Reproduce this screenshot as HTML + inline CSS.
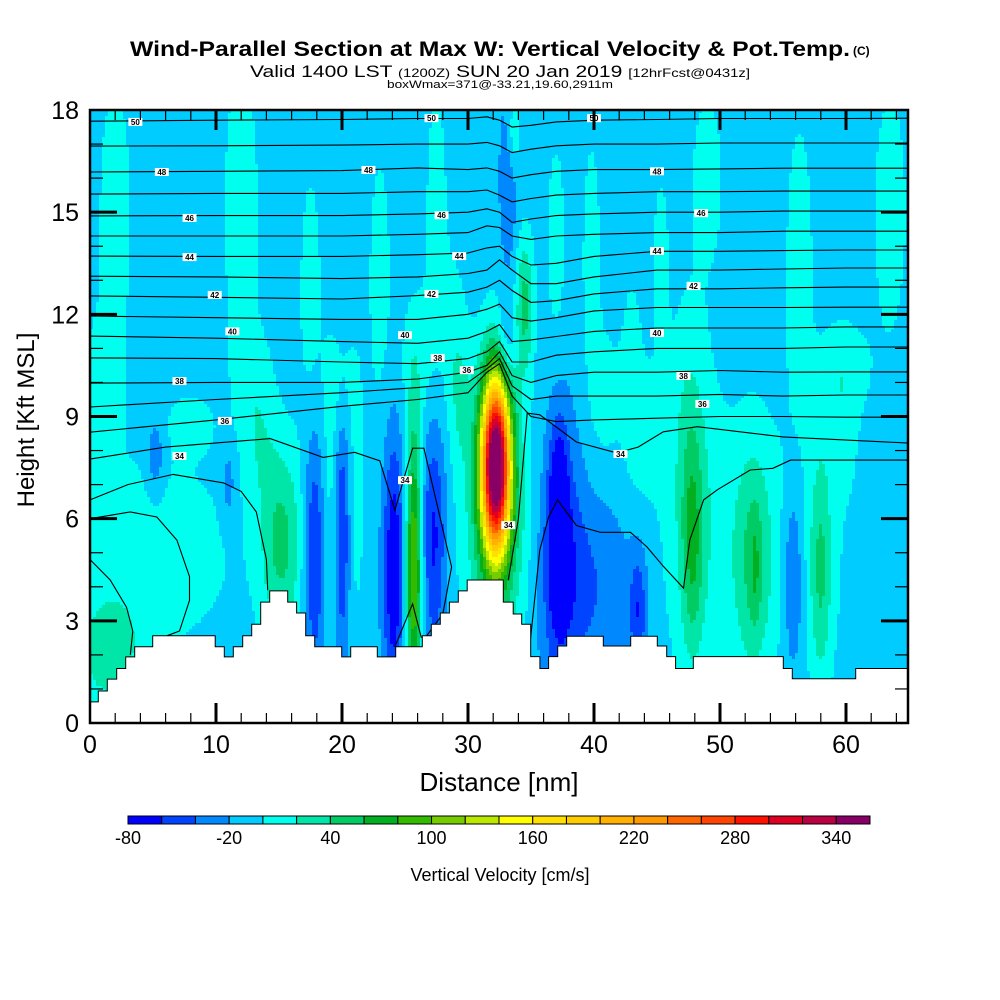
<!DOCTYPE html>
<html><head><meta charset="utf-8">
<style>
html,body{margin:0;padding:0;background:#fff;}
svg{display:block;font-family:"Liberation Sans",sans-serif;}
</style></head>
<body>
<svg id="chart" width="1000" height="1000" viewBox="0 0 1000 1000" xmlns="http://www.w3.org/2000/svg">
  <rect x="0" y="0" width="1000" height="1000" fill="#fff"/>
  <text x="490" y="56" text-anchor="middle" font-size="21" font-weight="bold" textLength="720" lengthAdjust="spacingAndGlyphs">Wind-Parallel Section at Max W: Vertical Velocity &amp; Pot.Temp.</text>
  <text x="853" y="55" font-size="12" font-weight="bold">(C)</text>
  <text x="500" y="77" text-anchor="middle" font-size="17" textLength="500" lengthAdjust="spacingAndGlyphs">Valid 1400 LST <tspan font-size="12">(1200Z)</tspan> SUN 20 Jan 2019 <tspan font-size="12">[12hrFcst@0431z]</tspan></text>
  <text x="500" y="88" text-anchor="middle" font-size="11" textLength="226" lengthAdjust="spacingAndGlyphs">boxWmax=371@-33.21,19.60,2911m</text>
  <g id="field"></g>
  <g id="contours"></g>
  <g id="terrain"></g>
  <g id="clabels"></g>
  <g id="axes"></g>
  <g id="cbar"></g>
  <text x="499" y="791" text-anchor="middle" font-size="26">Distance [nm]</text>
  <text transform="translate(34,420) rotate(-90)" text-anchor="middle" font-size="24">Height [Kft MSL]</text>
  <text x="500" y="881" text-anchor="middle" font-size="18">Vertical Velocity [cm/s]</text>
</svg>
<script>
// ---- data ----
const colorLevels = [-80,-60,-40,-20,0,20,40,60,80,100,120,140,160,180,200,220,240,260,280,300,320,340];
const colorFills = ['#0000ff','#0044ff','#0088ff','#00ccff','#00ffee','#00e6a8','#00cc66','#00b020','#33bb00','#77cc00','#bbe800','#ffff00','#ffe000','#ffcc00','#ffb000','#ff9900','#ff6600','#ff4400','#ff1100','#dd0022','#bb0044','#880066'];
const colorTickLabels = ['-80','-20','40','100','160','220','280','340'];
const xTicks = [0,10,20,30,40,50,60];
const yTicks = [0,3,6,9,12,15,18];
const baseVelocity = -10;
// velocity features (nm, kft, spread nm, spread kft, cm/s)
const blobX  = [5,1.5,1,5.2,11,15.2,17.8,20,24.1,25.7,27.3,32.2,32.3,37.2,37.3,39.5,43.5,48,47.8,52.6,52.8,55.8,58,54,
  2,12,13,17.5,20,23,26,27.5,29,34.5,33.6,33.2,33,37,39.8,43,45.3,47.5,49,56.3,59.5,63.5,60,8,19,21.2,13.5,29.5,41,44];
const blobY  = [5,2,10,7.8,7,5.3,5,5.5,4.5,4.5,5.5,7.6,6,6,5,4,3.3,6,5.2,4.8,4.5,4.3,4.5,5,
  15,15,10,12.5,10,13,10.5,14.5,11,12.3,17.3,16,11,14,13.5,10.5,13.5,9,16,13.5,9,15,10.5,8.8,7,6.5,8,9.5,9.5,8.5];
const blobSX = [5,1.8,1.2,0.5,0.4,1.2,0.6,0.4,0.6,0.45,0.7,0.8,1.8,0.5,1.2,2.5,0.5,1.8,0.6,1.0,0.3,0.6,0.6,5,
  1.0,1.1,1.1,0.7,0.9,0.7,1.1,0.7,0.6,0.5,0.4,0.5,0.5,0.6,0.6,0.6,0.5,1.0,1.0,0.9,1.0,1.1,1.5,1.3,0.5,0.4,0.9,0.7,0.9,1.0];
const blobSY = [2.2,1.2,1.5,0.8,0.8,2.0,2.5,2.5,2.8,3.0,2.5,1.8,3,1.8,3,2,1.2,3.5,2.2,2.4,1.2,2.0,2.3,3,
  3,3.5,1.2,3,1.2,3,1.5,3.5,2,1.4,0.8,2,1,2.5,3,2,2,2.5,2,3.5,1.5,3,1,0.6,2.5,2.5,1.2,1.5,1.5,1.5];
const blobAmp = [20,40,18,-30,-25,55,-55,-50,-70,115,-55,370,60,-75,-40,-30,-45,20,50,42,20,-40,45,16,
  20,20,18,18,18,18,18,18,16,55,35,-30,-30,18,18,18,18,18,18,18,18,18,16,18,18,18,18,18,18,18];
// terrain step edges (nm) and heights (kft)
const terrainEdges = [0,0.66,1.37,2.12,2.83,3.55,4.98,9.94,10.66,11.37,12.12,12.83,13.55,14.26,15.69,16.40,17.12,17.83,19.98,20.69,22.80,24.26,26.37,27.09,27.80,28.52,29.23,29.94,32.80,33.59,34.26,34.98,35.71,36.40,37.12,37.83,40.74,42.91,45.02,45.77,46.48,47.88,55.02,55.74,60.77,65];
const terrainHeights = [0.62,0.94,1.29,1.6,1.94,2.24,2.56,2.24,1.94,2.24,2.56,2.9,3.55,3.88,3.55,3.23,2.56,2.24,1.94,2.24,1.94,2.24,2.56,2.9,3.23,3.55,3.88,4.2,3.55,3.2,2.9,1.95,1.6,1.95,2.26,2.55,2.26,2.55,2.26,1.95,1.6,1.95,1.6,1.3,1.6];
// potential temperature contours (upper, shared x nodes)
const thetaX = [0,10,20,26,30,31.5,32.5,33.5,35,37,40,45,50,55,60,65];
const theta50 = [17.67,17.7,17.72,17.75,17.75,17.8,17.7,17.5,17.55,17.65,17.7,17.72,17.75,17.75,17.75,17.76];
const theta49 = [16.94,16.95,16.97,17.0,17.0,17.05,16.95,16.75,16.85,16.95,17.0,17.0,17.03,17.03,17.03,17.03];
const theta48 = [16.18,16.2,16.22,16.3,16.25,16.3,16.2,16.0,16.1,16.2,16.25,16.25,16.27,16.29,16.29,16.29];
const theta47 = [15.53,15.55,15.55,15.6,15.6,15.65,15.5,15.3,15.4,15.5,15.55,15.6,15.6,15.62,15.62,15.62];
const theta46 = [14.89,14.9,14.9,14.95,15.0,15.1,15.0,14.7,14.8,14.9,14.95,15.0,15.0,15.03,15.03,15.03];
const theta45 = [14.30,14.3,14.3,14.35,14.4,14.6,14.55,14.3,14.2,14.3,14.35,14.4,14.4,14.44,14.44,14.44];
const theta44 = [13.71,13.7,13.7,13.75,13.8,13.95,14.0,13.7,13.45,13.5,13.7,13.85,13.85,13.87,13.89,13.89];
const theta43 = [13.12,13.1,13.05,13.1,13.2,13.3,13.6,13.3,12.9,12.9,13.1,13.3,13.3,13.33,13.36,13.36];
const theta42 = [12.54,12.5,12.45,12.55,12.65,12.8,13.0,12.7,12.35,12.4,12.6,12.75,12.75,12.78,12.8,12.8];
const theta41 = [11.95,11.9,11.85,11.85,12.0,12.15,12.3,11.9,11.8,11.9,12.1,12.2,12.2,12.2,12.21,12.21];
const theta40 = [11.36,11.3,11.2,11.15,11.3,11.5,11.7,11.2,11.25,11.35,11.5,11.6,11.6,11.6,11.63,11.63];
const theta39 = [10.72,10.7,10.6,10.55,10.7,10.9,11.2,10.6,10.6,10.8,10.9,11.0,11.0,11.0,11.04,11.04];
const theta38 = [9.98,10.0,10.0,10.1,10.3,10.5,10.9,10.2,10.0,10.2,10.3,10.3,10.35,10.3,10.31,10.31];
const theta37 = [9.28,9.5,9.7,9.85,10.0,10.4,10.7,9.9,9.5,9.6,9.6,9.6,9.65,9.6,9.63,9.63];
const theta36 = [8.54,8.9,9.3,9.5,9.7,10.3,10.55,9.6,9.0,8.85,8.9,8.95,9.0,9.0,8.98,8.98];
// lower contours (free-form nm/kft lists)
const low34aX = [0,6,14.3,18.5,21,23,24.2,25.6,26.5,28.7,28,26.4];
const low34aY = [7.75,8.1,8.35,7.8,7.95,7.7,6.25,8.07,8.07,4.58,3.2,2.4];
const low34bX = [33.2,34,34.7,35.7,38.6,41.8,43.5,45.5,48.2,55,65];
const low34bY = [4.2,6,9.1,9.05,8.25,7.93,8.1,8.55,8.7,8.4,8.22];
const low33X = [0,3,6.6,10.6,12,13.2,14,14.1];
const low33Y = [6.55,7.0,7.3,7.05,6.8,6.2,4.8,3.9];
const low32X = [0,3.2,5.3,6.9,7.9,7.9,7.1,6.1];
const low32Y = [6.0,6.2,6.05,5.37,4.3,3.6,2.7,2.56];
const low31X = [0,1.6,2.9,3.4,3.2];
const low31Y = [4.8,4.2,3.4,2.7,2.0];
const spikeX = [24.2,25.6,26.3];
const spikeY = [2.24,3.5,2.5];
const rightX = [34.9,35.7,36.4,37.1,38.6,40.5,42.9,44.2,45.5,47.1,47.6,48.7,49.8,52.4,54.2,55.6,65];
const rightY = [2.24,5.08,6.05,6.55,5.8,5.6,5.6,5.17,4.6,3.96,5.37,6.55,6.85,7.43,7.48,7.72,7.72];
// contour labels
const labelX = [3.6,27.1,40.0,5.7,22.1,45.0,7.9,27.9,48.5,7.9,29.3,45.0,9.9,27.1,47.9,11.3,25.0,45.0,7.1,27.6,47.1,10.7,29.9,48.6,7.1,25.0,33.2,42.1];
const labelY = [17.65,17.76,17.76,16.18,16.24,16.2,14.83,14.91,14.97,13.68,13.71,13.86,12.57,12.6,12.83,11.5,11.39,11.45,10.04,10.72,10.19,8.87,10.36,9.37,7.84,7.13,5.81,7.9];
const labelText = ['50','50','50','48','48','48','46','46','46','44','44','44','42','42','42','40','40','40','38','38','38','36','36','36','34','34','34','34'];

// ---- scales ----
const X0=90, X1=908, Y0=723, Y1=110, XMAX=(908-90)/12.6, YMAX=18;
const xs = nm => X0 + nm*12.6;
const ys = k => Y0 - k*((Y0-Y1)/YMAX);
const NS='http://www.w3.org/2000/svg';
function mk(tag, attrs, parent){const e=document.createElementNS(NS,tag);for(const k in attrs)e.setAttribute(k,attrs[k]);parent.appendChild(e);return e;}
function colorIndex(v){let i=Math.floor((v-colorLevels[0])/20);return Math.max(0,Math.min(colorFills.length-1,i));}
function velocity(nm,k){let v=baseVelocity;for(let i=0;i<blobX.length;i++){const dx=(nm-blobX[i])/blobSX[i],dy=(k-blobY[i])/blobSY[i];v+=blobAmp[i]*Math.exp(-0.5*(dx*dx+dy*dy));}return v;}

// ---- field ----
const field=document.getElementById('field');
const step=3;
for(let py=Y1;py<Y0;py+=step){
  let runStart=X0,runIdx=-1;
  const h=Math.min(step,Y0-py);
  for(let px=X0;;px+=step){
    const done = px>=X1;
    let idx=-2;
    if(!done){const nm=(px+step/2-X0)/12.6,k=(Y0-(py+h/2))/((Y0-Y1)/YMAX);idx=colorIndex(velocity(nm,k));}
    if(idx!==runIdx){
      if(runIdx>=0){const r=mk('rect',{x:runStart,y:py,width:Math.min(px,X1)-runStart+0.5,height:h+0.5,fill:colorFills[runIdx]},field);
        
        }
      runStart=px;runIdx=idx;
    }
    if(done)break;
  }
}

// ---- contours ----
const cg=document.getElementById('contours');
function poly(xa,ya,name){const p=mk('polyline',{points:xa.map((x,i)=>xs(x).toFixed(1)+','+ys(ya[i]).toFixed(1)).join(' '),fill:'none',stroke:'#000','stroke-width':1.1},cg);
  
  }
const upper=[theta50,theta49,theta48,theta47,theta46,theta45,theta44,theta43,theta42,theta41,theta40,theta39,theta38,theta37,theta36];
upper.forEach((arr,i)=>poly(thetaX,arr,'theta-contour-'+(50-i)));
poly(low34aX,low34aY,'theta-contour-34-left');
poly(low34bX,low34bY,'theta-contour-34-right');
poly(low33X,low33Y,'theta-contour-33');
poly(low32X,low32Y,'theta-contour-32');
poly(low31X,low31Y,'theta-contour-31');
poly(spikeX,spikeY,'theta-contour-spike');
poly(rightX,rightY,'theta-contour-right-low');

// ---- terrain ----
const tg=document.getElementById('terrain');
let d='M'+xs(0)+','+Y0;
for(let i=0;i<terrainHeights.length;i++){d+=' L'+xs(terrainEdges[i]).toFixed(1)+','+ys(terrainHeights[i]).toFixed(1)+' L'+Math.min(X1,xs(terrainEdges[i+1])).toFixed(1)+','+ys(terrainHeights[i]).toFixed(1);}
d+=' L'+X1+','+Y0+' Z';
const tp=mk('path',{d:d,fill:'#fff',stroke:'#000','stroke-width':1},tg);



// ---- contour labels ----
const lg=document.getElementById('clabels');
labelText.forEach((t,i)=>{
  const r=mk('rect',{x:xs(labelX[i])-7,y:ys(labelY[i])-4,width:14,height:8,fill:'#fff'},lg);
  
  
  const tx=mk('text',{x:xs(labelX[i]),y:ys(labelY[i])+3,'text-anchor':'middle','font-size':8,'font-weight':'bold'},lg);
  tx.textContent=t;
  
  
});

// ---- axes ----
const ag=document.getElementById('axes');
const frame=mk('rect',{x:X0,y:Y1,width:X1-X0,height:Y0-Y1,fill:'none',stroke:'#000','stroke-width':2.5},ag);


for(let k=1;k<YMAX;k++){
  const major=k%3===0,len=major?27:13,sw=major?3:1.2;
  const a=mk('line',{x1:X0,x2:X0+len,y1:ys(k),y2:ys(k),stroke:'#000','stroke-width':sw},ag);
  
  
  const b=mk('line',{x1:X1,x2:X1-len,y1:ys(k),y2:ys(k),stroke:'#000','stroke-width':sw},ag);
  
  
}
for(let n=2;n<XMAX;n+=2){
  const major=n%10===0,len=major?20:10,sw=major?3:1.2;
  const a=mk('line',{x1:xs(n),x2:xs(n),y1:Y0,y2:Y0-len,stroke:'#000','stroke-width':sw},ag);
  
  
  const b=mk('line',{x1:xs(n),x2:xs(n),y1:Y1,y2:Y1+len,stroke:'#000','stroke-width':sw},ag);
  
  
}
yTicks.forEach(k=>{const t=mk('text',{x:79,y:ys(k)+9,'text-anchor':'end','font-size':25},ag);t.textContent=String(k);
  
  });
xTicks.forEach(n=>{const t=mk('text',{x:xs(n),y:753,'text-anchor':'middle','font-size':25},ag);t.textContent=String(n);
  
  });

// ---- colorbar ----
const bg=document.getElementById('cbar');
const CB0=128,CB1=870,bw=(CB1-CB0)/colorFills.length;
colorFills.forEach((c,i)=>{const r=mk('rect',{x:CB0+i*bw,y:816,width:bw,height:8,fill:c,stroke:'#000','stroke-width':1},bg);
  
  });
colorTickLabels.forEach((t,i)=>{const v=parseFloat(t);const x=CB0+(v-colorLevels[0])/20*bw;
  const tx=mk('text',{x:x,y:844,'text-anchor':'middle','font-size':18},bg);tx.textContent=t;
  
  });
</script>
</body></html>
